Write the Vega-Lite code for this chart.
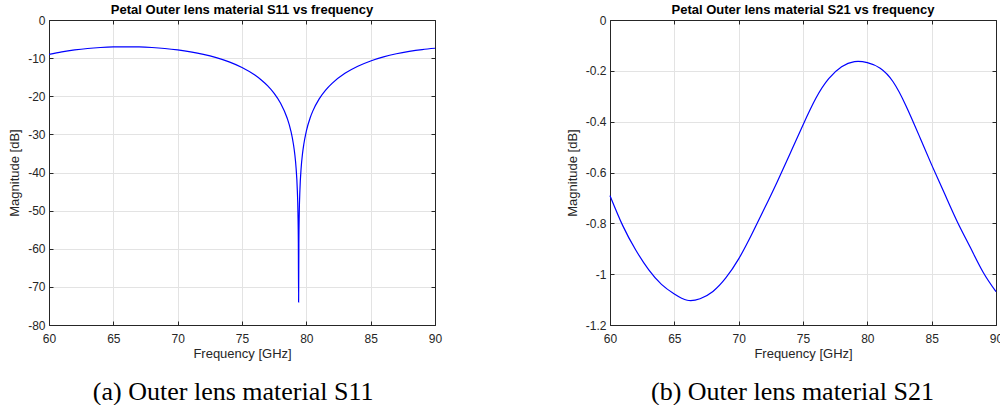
{
  "$schema": "https://vega.github.io/schema/vega-lite/v6.json",
  "padding": {"left": 8, "top": 3, "right": 0, "bottom": 0},
  "background": "white",
  "datasets": {
    "s11": [
      {"f": 60, "db": -9.00}, {"f": 61, "db": -8.34}, {"f": 62, "db": -7.84}, {"f": 63, "db": -7.47},
      {"f": 64, "db": -7.22}, {"f": 65, "db": -7.07}, {"f": 66, "db": -7.03}, {"f": 67, "db": -7.07},
      {"f": 68, "db": -7.22}, {"f": 69, "db": -7.47}, {"f": 70, "db": -7.84}, {"f": 71, "db": -8.34},
      {"f": 72, "db": -9.00}, {"f": 73, "db": -9.87}, {"f": 74, "db": -10.98}, {"f": 75, "db": -12.46},
      {"f": 76, "db": -14.44}, {"f": 76.5, "db": -15.72}, {"f": 77, "db": -17.28}, {"f": 77.5, "db": -19.23},
      {"f": 78, "db": -21.83}, {"f": 78.5, "db": -25.63}, {"f": 78.8, "db": -29.13}, {"f": 79.0, "db": -32.65},
      {"f": 79.1, "db": -35.14}, {"f": 79.2, "db": -38.67}, {"f": 79.3, "db": -44.69}, {"f": 79.35, "db": -50.71},
      {"f": 79.38, "db": -58.67}, {"f": 79.4, "db": -74.0}, {"f": 79.42, "db": -58.67}, {"f": 79.45, "db": -50.71},
      {"f": 79.5, "db": -44.69}, {"f": 79.6, "db": -38.67}, {"f": 79.7, "db": -35.14}, {"f": 79.8, "db": -32.65},
      {"f": 80.0, "db": -29.13}, {"f": 80.3, "db": -25.63}, {"f": 80.5, "db": -23.90}, {"f": 81, "db": -20.69},
      {"f": 81.5, "db": -18.39}, {"f": 82, "db": -16.62}, {"f": 83, "db": -13.99}, {"f": 84, "db": -12.13},
      {"f": 85, "db": -10.74}, {"f": 86, "db": -9.68}, {"f": 87, "db": -8.86}, {"f": 88, "db": -8.23},
      {"f": 89, "db": -7.75}, {"f": 90, "db": -7.41}
    ],
    "s21": [
      {"f": 60, "db": -0.691}, {"f": 61, "db": -0.81}, {"f": 62, "db": -0.905}, {"f": 63, "db": -0.982},
      {"f": 64, "db": -1.04}, {"f": 65, "db": -1.078}, {"f": 66, "db": -1.1025}, {"f": 67, "db": -1.0965},
      {"f": 68, "db": -1.068}, {"f": 69, "db": -1.015}, {"f": 70, "db": -0.94}, {"f": 71, "db": -0.845},
      {"f": 72, "db": -0.742}, {"f": 73, "db": -0.636}, {"f": 74, "db": -0.525}, {"f": 75, "db": -0.413},
      {"f": 76, "db": -0.308}, {"f": 77, "db": -0.231}, {"f": 78, "db": -0.184}, {"f": 79, "db": -0.164},
      {"f": 80, "db": -0.168}, {"f": 81, "db": -0.19}, {"f": 82, "db": -0.243}, {"f": 83, "db": -0.337},
      {"f": 84, "db": -0.452}, {"f": 85, "db": -0.57}, {"f": 86, "db": -0.683}, {"f": 87, "db": -0.7945},
      {"f": 88, "db": -0.8945}, {"f": 89, "db": -0.9925}, {"f": 90, "db": -1.069}
    ]
  },
  "spacing": 122,
  "hconcat": [
    {
      "title": {"text": "(a) Outer lens material S11", "orient": "bottom", "anchor": "middle", "font": "Liberation Serif", "fontSize": 26, "fontWeight": "normal", "color": "#000000", "offset": 18, "dx": 8},
      "vconcat": [
        {
          "width": 386,
          "height": 305,
          "title": {"text": "Petal Outer lens material S11 vs frequency", "offset": -3},
          "data": {"name": "s11"},
          "layer": [
            {
              "mark": {"type": "line", "color": "#0000ff", "strokeWidth": 1.2, "interpolate": "monotone"},
              "encoding": {
                "x": {"field": "f", "type": "quantitative", "scale": {"domain": [60, 90], "nice": false},
                      "axis": {"title": "Frequency [GHz]", "values": [60, 65, 70, 75, 80, 85, 90], "labelFlush": false, "labelOverlap": false}},
                "y": {"field": "db", "type": "quantitative", "scale": {"domain": [-80, 0], "nice": false},
                      "axis": {"title": "Magnitude [dB]", "values": [-80, -70, -60, -50, -40, -30, -20, -10, 0], "labelExpr": "replace(datum.label, '\u2212', '-')"}}
              }
            },
            {
              "mark": {"type": "line", "opacity": 0},
              "encoding": {
                "x": {"field": "f", "type": "quantitative", "scale": {"domain": [60, 90], "nice": false},
                      "axis": {"orient": "top", "title": null, "labels": false, "grid": false, "values": [60, 65, 70, 75, 80, 85, 90]}},
                "y": {"field": "db", "type": "quantitative", "scale": {"domain": [-80, 0], "nice": false},
                      "axis": {"orient": "right", "title": null, "labels": false, "grid": false, "values": [-80, -70, -60, -50, -40, -30, -20, -10, 0]}}
              }
            }
          ],
          "resolve": {"axis": {"x": "independent", "y": "independent"}}
        }
      ]
    },
    {
      "title": {"text": "(b) Outer lens material S21", "orient": "bottom", "anchor": "middle", "font": "Liberation Serif", "fontSize": 26, "fontWeight": "normal", "color": "#000000", "offset": 18, "dx": 8},
      "vconcat": [
        {
          "width": 386,
          "height": 305,
          "title": {"text": "Petal Outer lens material S21 vs frequency", "offset": -3},
          "data": {"name": "s21"},
          "layer": [
            {
              "mark": {"type": "line", "color": "#0000ff", "strokeWidth": 1.2, "interpolate": "natural"},
              "encoding": {
                "x": {"field": "f", "type": "quantitative", "scale": {"domain": [60, 90], "nice": false},
                      "axis": {"title": "Frequency [GHz]", "values": [60, 65, 70, 75, 80, 85, 90], "labelFlush": false, "labelOverlap": false}},
                "y": {"field": "db", "type": "quantitative", "scale": {"domain": [-1.2, 0], "nice": false},
                      "axis": {"title": "Magnitude [dB]", "values": [-1.2, -1, -0.8, -0.6, -0.4, -0.2, 0], "labelExpr": "replace(format(datum.value, '~g'), '\u2212', '-')"}}
              }
            },
            {
              "mark": {"type": "line", "opacity": 0},
              "encoding": {
                "x": {"field": "f", "type": "quantitative", "scale": {"domain": [60, 90], "nice": false},
                      "axis": {"orient": "top", "title": null, "labels": false, "grid": false, "values": [60, 65, 70, 75, 80, 85, 90]}},
                "y": {"field": "db", "type": "quantitative", "scale": {"domain": [-1.2, 0], "nice": false},
                      "axis": {"orient": "right", "title": null, "labels": false, "grid": false, "values": [-1.2, -1, -0.8, -0.6, -0.4, -0.2, 0]}}
              }
            }
          ],
          "resolve": {"axis": {"x": "independent", "y": "independent"}}
        }
      ]
    }
  ],
  "config": {
    "font": "Liberation Sans",
    "view": {"stroke": "#262626", "strokeWidth": 1},
    "axis": {
      "domainColor": "#262626",
      "tickColor": "#262626",
      "tickSize": -4,
      "labelColor": "#262626",
      "labelFont": "Liberation Sans",
      "labelFontSize": 12,
      "titleColor": "#262626",
      "titleFont": "Liberation Sans",
      "titleFontSize": 13,
      "titleFontWeight": "normal",
      "gridColor": "#e3e3e3",
      "gridWidth": 1
    },
    "axisX": {"labelPadding": 12, "titlePadding": 3},
    "axisY": {"labelPadding": 8, "titlePadding": 6},
    "title": {"font": "Liberation Sans", "fontSize": 13, "fontWeight": "bold", "color": "#000000"}
  }
}
